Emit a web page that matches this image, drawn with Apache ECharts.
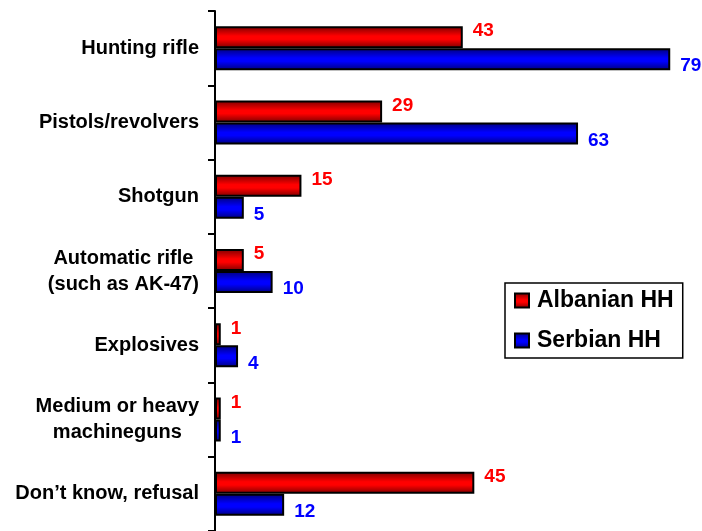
<!DOCTYPE html>
<html><head><meta charset="utf-8">
<script src="https://cdn.jsdelivr.net/npm/echarts@6/dist/echarts.min.js"></script>
<style>html,body{margin:0;padding:0;background:#fff}#c{width:702px;height:531px}</style>
</head><body><div id="c"></div>
<script>
var categories = ["Hunting rifle", "Pistols/revolvers", "Shotgun", "Automatic rifle\n(such as AK-47)", "Explosives", "Medium or heavy\nmachineguns", "Don\u2019t know, refusal"];
var albanian = [43, 29, 15, 5, 1, 1, 45];
var serbian = [79, 63, 5, 10, 4, 1, 12];
var seriesNames = ["Albanian HH", "Serbian HH"];

var chart = echarts.init(document.getElementById('c'), null, {renderer: 'canvas'});
function grad(dark, bright) {
  return new echarts.graphic.LinearGradient(0, 0, 0, 1, [
    {offset: 0, color: dark}, {offset: 0.45, color: bright}, {offset: 0.6, color: bright}, {offset: 1, color: dark}
  ]);
}
var font = '"Liberation Sans", Arial, sans-serif';
chart.setOption({
  animation: false,
  grid: {left: 215, top: 11, width: 461, height: 525},
  legend: {
    orient: 'vertical', left: 505, top: 283,
    data: seriesNames,
    borderColor: '#000', borderWidth: 1.5, padding: [6, 9, 6, 9],
    itemGap: 17, itemWidth: 14, itemHeight: 14,
    icon: 'rect',
    textStyle: {fontFamily: font, fontWeight: 'bold', fontSize: 23, color: '#000', padding: [0, 0, 0, 3]}
  },
  xAxis: {type: 'value', min: 0, max: 80, show: false},
  yAxis: {
    type: 'category', inverse: true, data: categories,
    axisLine: {lineStyle: {color: '#000', width: 2}},
    axisTick: {show: true, length: 7, lineStyle: {color: '#000', width: 2}},
    axisLabel: {
      margin: 16, align: 'right',
      formatter: function (v) { return v.split('\n').map(function (s) { return '{c|' + s + '}'; }).join('\n'); },
      rich: {c: {fontFamily: font, fontWeight: 'bold', fontSize: 20, color: '#000', lineHeight: 26, align: 'center'}}
    }
  },
  series: [
    {
      name: seriesNames[0], type: 'bar', data: albanian, barWidth: 22, barGap: '0%',
      itemStyle: {color: grad('#7a0000', '#ff0000'), borderColor: '#000', borderWidth: 2},
      label: {show: true, position: 'right', distance: 10, offset: [0, -6], fontFamily: font, fontWeight: 'bold', fontSize: 19, color: '#ff0000'}
    },
    {
      name: seriesNames[1], type: 'bar', data: serbian, barWidth: 22, barGap: '0%',
      itemStyle: {color: grad('#00007a', '#0000ff'), borderColor: '#000', borderWidth: 2},
      label: {show: true, position: 'right', distance: 10, offset: [0, 7], fontFamily: font, fontWeight: 'bold', fontSize: 19, color: '#0000ff'}
    }
  ]
});
</script></body></html>
